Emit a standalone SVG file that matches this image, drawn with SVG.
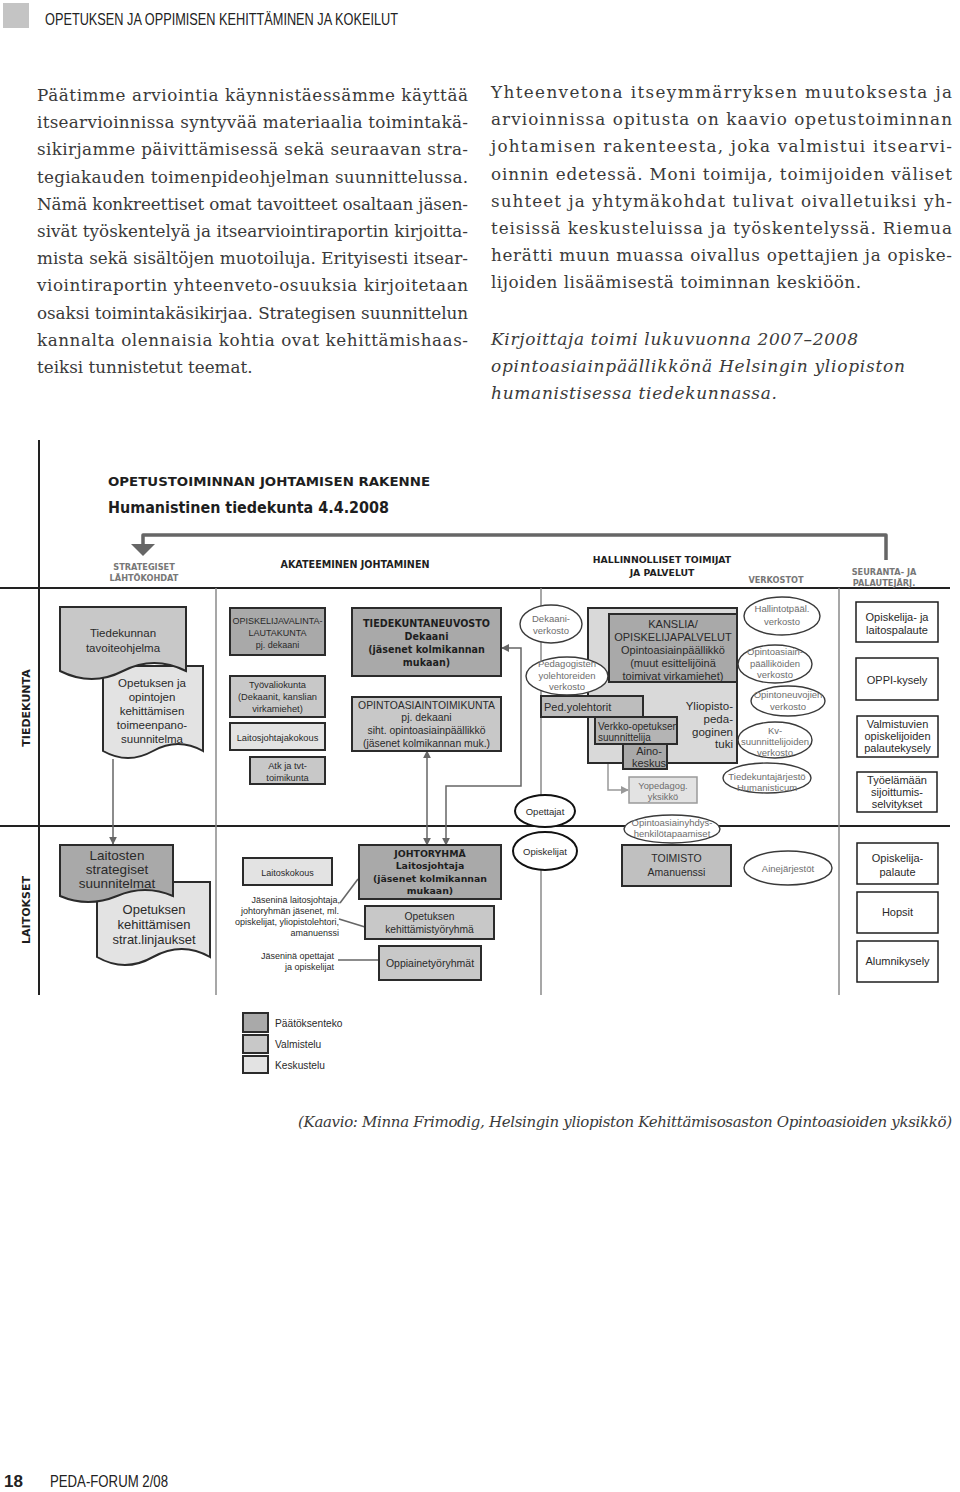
<svg xmlns="http://www.w3.org/2000/svg" width="960" height="1492" viewBox="0 0 960 1492">
<style>
.s{font-family:"Liberation Sans",Arial,sans-serif;fill:#2a2a2a}
.g{fill:#6e6e6e}
.bd{font-family:"DejaVu Sans",Verdana,sans-serif;font-weight:bold;fill:#1e1e1e}
.m{text-anchor:middle}
.e{text-anchor:end}
.p{font-family:"DejaVu Serif","Liberation Serif",serif;font-size:16.8px;fill:#3a3a3a}
.pi{font-style:italic;font-size:17px}
.d1{fill:#a9a9a9;stroke:#2b2b2b;stroke-width:2}
.d2{fill:#c8c8c8;stroke:#2b2b2b;stroke-width:2}
.d3{fill:#e3e3e3;stroke:#2b2b2b;stroke-width:2}
.w{fill:#fff;stroke:#1e1e1e;stroke-width:1.5}
.ov{fill:#fff;stroke:#3a3a3a;stroke-width:1.4}
.ovb{fill:#fff;stroke:#111;stroke-width:2}
.ln{stroke:#222;stroke-width:2;fill:none}
.sep{stroke:#8a8a8a;stroke-width:1.5;fill:none}
.cn{stroke:#666;stroke-width:1.5;fill:none}
</style>
<defs>
<marker id="ah" viewBox="0 0 10 10" refX="9" refY="5" markerWidth="8" markerHeight="8" orient="auto-start-reverse" markerUnits="userSpaceOnUse"><path d="M0,0 L10,5 L0,10 z" fill="#666"/></marker>
<marker id="ahl" viewBox="0 0 10 10" refX="9" refY="5" markerWidth="8" markerHeight="8" orient="auto-start-reverse" markerUnits="userSpaceOnUse"><path d="M0,0 L10,5 L0,10 z" fill="#999"/></marker>
</defs>
<rect width="960" height="1492" fill="#fff"/>

<!-- page header -->
<rect x="3" y="3" width="26" height="25" fill="#c4c4c4"/>
<text x="45" y="25" font-family="Liberation Sans, Arial, sans-serif" font-size="16.5" fill="#222" textLength="353" lengthAdjust="spacingAndGlyphs">OPETUKSEN JA OPPIMISEN KEHITTÄMINEN JA KOKEILUT</text>

<!-- left column text -->
<g class="p">
<text x="37" y="101" textLength="431" lengthAdjust="spacing">Päätimme arviointia käynnistäessämme käyttää</text>
<text x="37" y="128" textLength="431" lengthAdjust="spacing">itsearvioinnissa syntyvää materiaalia toimintakä-</text>
<text x="37" y="155" textLength="431" lengthAdjust="spacing">sikirjamme päivittämisessä sekä seuraavan stra-</text>
<text x="37" y="183" textLength="431" lengthAdjust="spacing">tegiakauden toimenpideohjelman suunnittelussa.</text>
<text x="37" y="210" textLength="431" lengthAdjust="spacing">Nämä konkreettiset omat tavoitteet osaltaan jäsen-</text>
<text x="37" y="237" textLength="431" lengthAdjust="spacing">sivät työskentelyä ja itsearviointiraportin kirjoitta-</text>
<text x="37" y="264" textLength="431" lengthAdjust="spacing">mista sekä sisältöjen muotoiluja. Erityisesti itsear-</text>
<text x="37" y="291" textLength="431" lengthAdjust="spacing">viointiraportin yhteenveto-osuuksia kirjoitetaan</text>
<text x="37" y="319" textLength="431" lengthAdjust="spacing">osaksi toimintakäsikirjaa. Strategisen suunnittelun</text>
<text x="37" y="346" textLength="431" lengthAdjust="spacing">kannalta olennaisia kohtia ovat kehittämishaas-</text>
<text x="37" y="373">teiksi tunnistetut teemat.</text>
</g>

<!-- right column text -->
<g class="p">
<text x="491" y="98" textLength="461" lengthAdjust="spacing">Yhteenvetona itseymmärryksen muutoksesta ja</text>
<text x="491" y="125" textLength="461" lengthAdjust="spacing">arvioinnissa opitusta on kaavio opetustoiminnan</text>
<text x="491" y="152" textLength="461" lengthAdjust="spacing">johtamisen rakenteesta, joka valmistui itsearvi-</text>
<text x="491" y="180" textLength="461" lengthAdjust="spacing">oinnin edetessä. Moni toimija, toimijoiden väliset</text>
<text x="491" y="207" textLength="461" lengthAdjust="spacing">suhteet ja yhtymäkohdat tulivat oivalletuiksi yh-</text>
<text x="491" y="234" textLength="461" lengthAdjust="spacing">teisissä keskusteluissa ja työskentelyssä. Riemua</text>
<text x="491" y="261" textLength="461" lengthAdjust="spacing">herätti muun muassa oivallus opettajien ja opiske-</text>
<text x="491" y="288" textLength="370" lengthAdjust="spacing">lijoiden lisäämisestä toiminnan keskiöön.</text>
<text class="pi" x="491" y="345" textLength="367" lengthAdjust="spacing">Kirjoittaja toimi lukuvuonna 2007–2008</text>
<text class="pi" x="491" y="372" textLength="414" lengthAdjust="spacing">opintoasiainpäällikkönä Helsingin yliopiston</text>
<text class="pi" x="491" y="399" textLength="286" lengthAdjust="spacing">humanistisessa tiedekunnassa.</text>
</g>

<!-- diagram frame -->
<g id="frame">
<line class="ln" x1="39" y1="440" x2="39" y2="995"/>
<line class="ln" x1="0" y1="588" x2="950" y2="588"/>
<line class="ln" x1="0" y1="826" x2="950" y2="826"/>
<line class="sep" x1="216" y1="588" x2="216" y2="995"/>
<line class="sep" x1="541" y1="588" x2="541" y2="800"/>
<line class="sep" x1="541" y1="868" x2="541" y2="995"/>
<line class="sep" x1="839" y1="588" x2="839" y2="995"/>
<text class="bd" x="108" y="486" font-size="13" textLength="322" lengthAdjust="spacingAndGlyphs">OPETUSTOIMINNAN JOHTAMISEN RAKENNE</text>
<text class="bd" x="108" y="513" font-size="15" textLength="281" lengthAdjust="spacingAndGlyphs">Humanistinen tiedekunta 4.4.2008</text>
<text class="bd m" x="30" y="708" font-size="11" transform="rotate(-90 30 708)">TIEDEKUNTA</text>
<text class="bd m" x="30" y="910" font-size="11" transform="rotate(-90 30 910)">LAITOKSET</text>
<g class="bd m" font-size="8.2" style="fill:#777">
<text x="144" y="570">STRATEGISET</text>
<text x="144" y="581">LÄHTÖKOHDAT</text>
<text x="776" y="583">VERKOSTOT</text>
<text x="884" y="575">SEURANTA- JA</text>
<text x="884" y="586">PALAUTEJÄRJ.</text>
</g>
<text class="bd m" x="355" y="568" font-size="9.6">AKATEEMINEN JOHTAMINEN</text>
<text class="bd m" x="662" y="563" font-size="9.3">HALLINNOLLISET TOIMIJAT</text>
<text class="bd m" x="662" y="576" font-size="9.3">JA PALVELUT</text>
</g>

<!-- connectors -->
<g id="connectors">
<path d="M143,545 V535 H886 V560" fill="none" stroke="#666" stroke-width="3.5" stroke-linejoin="round"/>
<polygon points="131,544 155,544 143,556" fill="#666"/>
<path class="cn" d="M113,759 V844" marker-end="url(#ah)"/>
<path class="cn" d="M427,845 V751" marker-start="url(#ah)" marker-end="url(#ah)"/>
<path class="cn" d="M446,845 V786 H521 V648 H502" marker-start="url(#ah)" marker-end="url(#ah)"/>
<path d="M608,764 V790 H628" fill="none" stroke="#999" stroke-width="1.5" marker-end="url(#ahl)"/>
<path class="cn" d="M340,903 L358,879"/>
<path class="cn" d="M339,919 L365,927"/>
<path class="cn" d="M338,960 L379,960"/>
</g>

<!-- strategic documents -->
<g id="n-opetuksen-toimeenpano">
<path class="d3" d="M103,666 H203 V751 Q178,737 153,751 Q128,765 103,751 Z"/>
<g class="s m" font-size="11.5">
<text x="152" y="687">Opetuksen ja</text>
<text x="152" y="701">opintojen</text>
<text x="152" y="715">kehittämisen</text>
<text x="152" y="729">toimeenpano-</text>
<text x="152" y="743">suunnitelma</text>
</g>
</g>
<g id="n-tavoiteohjelma">
<path class="d2" d="M60,607 H186 V671 Q154,655 123,671 Q92,687 60,671 Z"/>
<text class="s m" x="123" y="637" font-size="11.5">Tiedekunnan</text>
<text class="s m" x="123" y="652" font-size="11.5">tavoiteohjelma</text>
</g>
<g id="n-strat-linjaukset">
<path class="d3" d="M97,882 H210 V957 Q182,941 153,957 Q125,973 97,957 Z"/>
<g class="s m" font-size="13">
<text x="154" y="914">Opetuksen</text>
<text x="154" y="929">kehittämisen</text>
<text x="154" y="944">strat.linjaukset</text>
</g>
</g>
<g id="n-laitosten-strategiset">
<path class="d1" d="M60,845 H173 V896 Q145,884 117,896 Q88,908 60,896 Z"/>
<g class="s m" font-size="13.5">
<text x="117" y="860">Laitosten</text>
<text x="117" y="874">strategiset</text>
<text x="117" y="888">suunnitelmat</text>
</g>
</g>

<!-- academic management, faculty -->
<g id="n-opiskelijavalinta">
<rect class="d1" x="230" y="608" width="95" height="47"/>
<g class="s m" font-size="9"><text x="277.5" y="624">OPISKELIJAVALINTA-</text><text x="277.5" y="636">LAUTAKUNTA</text><text x="277.5" y="648">pj. dekaani</text></g>
</g>
<g id="n-tyovaliokunta">
<rect class="d2" x="230" y="676" width="95" height="41"/>
<g class="s m" font-size="9.3"><text x="277.5" y="688">Työvaliokunta</text><text x="277.5" y="700">(Dekaanit, kanslian</text><text x="277.5" y="712">virkamiehet)</text></g>
</g>
<g id="n-laitosjohtajakokous">
<rect class="d3" x="230" y="723" width="95" height="27"/>
<text class="s m" x="277.5" y="741" font-size="9.3">Laitosjohtajakokous</text>
</g>
<g id="n-atk">
<rect class="d2" x="250" y="757" width="75" height="27"/>
<g class="s m" font-size="9.3"><text x="287.5" y="769">Atk ja tvt-</text><text x="287.5" y="781">toimikunta</text></g>
</g>
<g id="n-tiedekuntaneuvosto">
<rect class="d1" x="352" y="608" width="149" height="68"/>
<g class="bd m" font-size="9.6"><text x="426.5" y="627">TIEDEKUNTANEUVOSTO</text><text x="426.5" y="640">Dekaani</text><text x="426.5" y="653">(jäsenet kolmikannan</text><text x="426.5" y="666">mukaan)</text></g>
</g>
<g id="n-opintoasiaintoimikunta">
<rect class="d2" x="352" y="697" width="149" height="54"/>
<g class="s m" font-size="10.4"><text x="426.5" y="709">OPINTOASIAINTOIMIKUNTA</text><text x="426.5" y="721">pj. dekaani</text><text x="426.5" y="734">siht. opintoasiainpäällikkö</text><text x="426.5" y="747">(jäsenet kolmikannan muk.)</text></g>
</g>

<!-- administration -->
<g id="n-yliopistopedagoginen">
<rect class="d3" x="588" y="608" width="149" height="155" style="fill:#d9d9d9"/>
<g class="s e" font-size="11.5"><text x="733" y="710">Yliopisto-</text><text x="733" y="723">peda-</text><text x="733" y="736">goginen</text><text x="733" y="748">tuki</text></g>
</g>
<g id="n-kanslia">
<rect class="d1" x="609" y="614" width="128" height="68"/>
<g class="s m" font-size="11"><text x="673" y="628">KANSLIA/</text><text x="673" y="641">OPISKELIJAPALVELUT</text><text x="673" y="654">Opintoasiainpäällikkö</text><text x="673" y="667">(muut esittelijöinä</text><text x="673" y="680">toimivat virkamiehet)</text></g>
</g>
<g id="n-pedyolehtorit">
<rect class="d2" x="541" y="696" width="102" height="21" style="fill:#bdbdbd"/>
<text class="s" x="544" y="711" font-size="11">Ped.yolehtorit</text>
</g>
<g id="n-verkko-opetus">
<rect class="d2" x="595" y="717" width="82" height="27" style="fill:#b4b4b4"/>
<text class="s" x="598" y="730" font-size="10">Verkko-opetuksen</text>
<text class="s" x="598" y="741" font-size="10">suunnittelija</text>
</g>
<g id="n-aino">
<rect class="d1" x="623" y="744" width="44" height="25"/>
<text class="s m" x="649" y="755" font-size="11">Aino-</text>
<text class="s m" x="649" y="767" font-size="11">keskus</text>
</g>
<g id="n-yopedagog">
<rect x="629" y="777" width="68" height="26" fill="#e3e3e3" stroke="#9a9a9a" stroke-width="1.5"/>
<text class="s g m" x="663" y="789" font-size="9.3">Yopedagog.</text>
<text class="s g m" x="663" y="800" font-size="9.3">yksikkö</text>
</g>
<g id="n-dekaaniverkosto">
<ellipse class="ov" cx="551" cy="624" rx="31" ry="19"/>
<text class="s g m" x="551" y="622" font-size="9.5">Dekaani-</text>
<text class="s g m" x="551" y="634" font-size="9.5">verkosto</text>
</g>
<g id="n-pedagogisten">
<ellipse class="ov" cx="567" cy="676" rx="41" ry="19"/>
<g class="s g m" font-size="9.5"><text x="567" y="667">Pedagogisten</text><text x="567" y="679">yolehtoreiden</text><text x="567" y="690">verkosto</text></g>
</g>
<g id="n-opettajat">
<ellipse class="ovb" cx="545" cy="811" rx="30" ry="16"/>
<text class="s m" x="545" y="815" font-size="9.5">Opettajat</text>
</g>
<g id="n-opiskelijat">
<ellipse class="ovb" cx="545" cy="851" rx="32" ry="19"/>
<text class="s m" x="545" y="855" font-size="9.5">Opiskelijat</text>
</g>

<!-- networks -->
<g id="n-hallintotpaal">
<ellipse class="ov" cx="782" cy="616" rx="38" ry="19"/>
<text class="s g m" x="782" y="612" font-size="9.5">Hallintotpääl.</text>
<text class="s g m" x="782" y="625" font-size="9.5">verkosto</text>
</g>
<g id="n-opintoasiainpaallikoiden">
<ellipse class="ov" cx="775" cy="664" rx="37" ry="19"/>
<g class="s g m" font-size="9.5"><text x="775" y="655">Opintoasiain-</text><text x="775" y="667">päälliköiden</text><text x="775" y="678">verkosto</text></g>
</g>
<g id="n-opintoneuvojien">
<ellipse class="ov" cx="788" cy="701" rx="37" ry="15"/>
<text class="s g m" x="788" y="698" font-size="9.5">Opintoneuvojien</text>
<text class="s g m" x="788" y="710" font-size="9.5">verkosto</text>
</g>
<g id="n-kv">
<ellipse class="ov" cx="775" cy="740" rx="37" ry="18"/>
<g class="s g m" font-size="9.5"><text x="775" y="734">Kv-</text><text x="775" y="745">suunnittelijoiden</text><text x="775" y="756">verkosto</text></g>
</g>
<g id="n-humanisticum">
<ellipse class="ov" cx="767" cy="778" rx="44" ry="15"/>
<text class="s g m" x="767" y="780" font-size="9.5">Tiedekuntajärjestö</text>
<text class="s g m" x="767" y="791" font-size="9.5">Humanisticum</text>
</g>
<g id="n-yhdyshenkilot">
<ellipse class="ov" cx="672" cy="829" rx="48" ry="14"/>
<text class="s g m" x="672" y="826" font-size="9.5">Opintoasiainyhdys-</text>
<text class="s g m" x="672" y="837" font-size="9.5">henkilötapaamiset</text>
</g>

<!-- feedback -->
<g id="n-opiskelija-laitospalaute">
<rect class="w" x="856" y="602" width="82" height="40"/>
<text class="s m" x="897" y="621" font-size="11">Opiskelija- ja</text>
<text class="s m" x="897" y="634" font-size="11">laitospalaute</text>
</g>
<g id="n-oppi">
<rect class="w" x="856" y="658" width="82" height="42"/>
<text class="s m" x="897" y="684" font-size="11">OPPI-kysely</text>
</g>
<g id="n-valmistuvien">
<rect class="w" x="857" y="716" width="81" height="41"/>
<g class="s m" font-size="11"><text x="897.5" y="728">Valmistuvien</text><text x="897.5" y="740">opiskelijoiden</text><text x="897.5" y="752">palautekysely</text></g>
</g>
<g id="n-tyoelamaan">
<rect class="w" x="857" y="772" width="80" height="40"/>
<g class="s m" font-size="11"><text x="897" y="784">Työelämään</text><text x="897" y="796">sijoittumis-</text><text x="897" y="808">selvitykset</text></g>
</g>

<!-- departments -->
<g id="n-laitoskokous">
<rect class="d3" x="243" y="858" width="89" height="27"/>
<text class="s m" x="287.5" y="876" font-size="9">Laitoskokous</text>
</g>
<g id="t-jasenina" class="s e" font-size="9">
<text x="340" y="903">Jäseninä laitosjohtaja,</text>
<text x="339" y="914">johtoryhmän jäsenet, ml.</text>
<text x="339" y="925">opiskelijat, yliopistolehtori,</text>
<text x="339" y="936">amanuenssi</text>
<text x="334" y="959">Jäseninä opettajat</text>
<text x="334" y="970">ja opiskelijat</text>
</g>
<g id="n-johtoryhma">
<rect class="d1" x="359" y="845" width="142" height="54"/>
<g class="bd m" font-size="9.4"><text x="430" y="857">JOHTORYHMÄ</text><text x="430" y="869">Laitosjohtaja</text><text x="430" y="882">(jäsenet kolmikannan</text><text x="430" y="894">mukaan)</text></g>
</g>
<g id="n-kehittamistyoryhma">
<rect class="d2" x="365" y="906" width="129" height="33"/>
<text class="s m" x="429.5" y="920" font-size="10.3">Opetuksen</text>
<text class="s m" x="429.5" y="933" font-size="10.3">kehittämistyöryhmä</text>
</g>
<g id="n-oppiainetyoryhmat">
<rect class="d2" x="379" y="946" width="102" height="34"/>
<text class="s m" x="430" y="967" font-size="10.5">Oppiainetyöryhmät</text>
</g>
<g id="n-toimisto">
<rect class="d2" x="622" y="845" width="109" height="41" style="fill:#c0c0c0"/>
<text class="s m" x="676.5" y="862" font-size="10.5">TOIMISTO</text>
<text class="s m" x="676.5" y="876" font-size="10.5">Amanuenssi</text>
</g>
<g id="n-ainejarjestot">
<ellipse class="ov" cx="788" cy="868" rx="44" ry="17"/>
<text class="s g m" x="788" y="872" font-size="9.5">Ainejärjestöt</text>
</g>
<g id="n-opiskelijapalaute">
<rect class="w" x="857" y="843" width="81" height="41"/>
<text class="s m" x="897.5" y="862" font-size="11">Opiskelija-</text>
<text class="s m" x="897.5" y="876" font-size="11">palaute</text>
</g>
<g id="n-hopsit">
<rect class="w" x="857" y="892" width="81" height="41"/>
<text class="s m" x="897.5" y="916" font-size="11">Hopsit</text>
</g>
<g id="n-alumnikysely">
<rect class="w" x="857" y="941" width="81" height="41"/>
<text class="s m" x="897.5" y="965" font-size="11">Alumnikysely</text>
</g>

<!-- legend -->
<g id="legend">
<rect class="d1" x="243" y="1013" width="25" height="19"/>
<rect class="d2" x="243" y="1035" width="25" height="18"/>
<rect class="d3" x="243" y="1056" width="25" height="17"/>
<text class="s" x="275" y="1027" font-size="10.2">Päätöksenteko</text>
<text class="s" x="275" y="1048" font-size="10.2">Valmistelu</text>
<text class="s" x="275" y="1069" font-size="10.2">Keskustelu</text>
</g>

<text x="298" y="1127" font-family="DejaVu Serif, Liberation Serif, serif" font-style="italic" font-size="15" fill="#3a3a3a" textLength="654" lengthAdjust="spacing">(Kaavio: Minna Frimodig, Helsingin yliopiston Kehittämisosaston Opintoasioiden yksikkö)</text>

<!-- footer -->
<text x="4" y="1487" font-family="Liberation Sans, Arial, sans-serif" font-weight="bold" font-size="17" fill="#222">18</text>
<text x="50" y="1487" font-family="Liberation Sans, Arial, sans-serif" font-size="17" fill="#222" textLength="118" lengthAdjust="spacingAndGlyphs">PEDA-FORUM 2/08</text>
</svg>
